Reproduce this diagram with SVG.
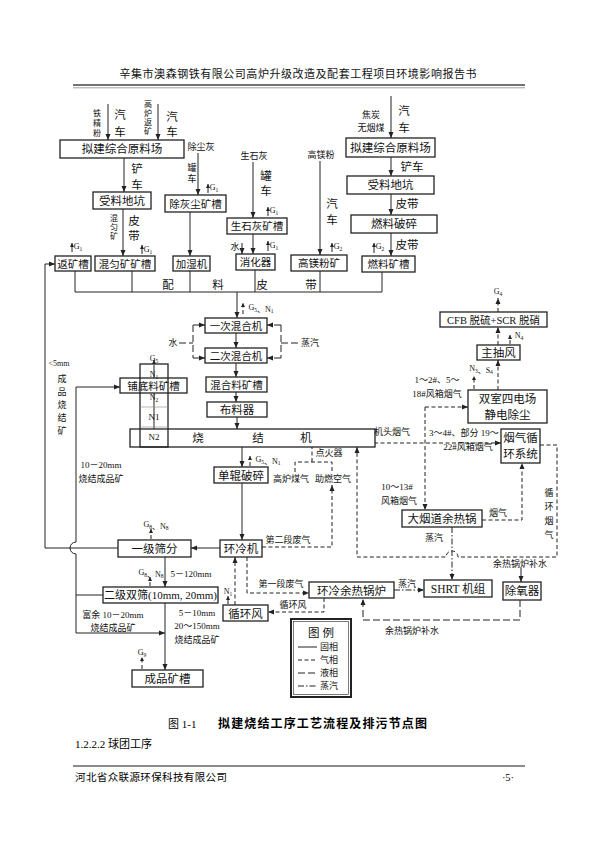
<svg xmlns="http://www.w3.org/2000/svg" width="595" height="842" viewBox="0 0 595 842">
<defs>
<marker id="a" markerUnits="userSpaceOnUse" markerWidth="6" markerHeight="6" refX="6" refY="3" orient="auto"><path d="M0,0.5 L6,3 L0,5.5 z" fill="#222"/></marker>
<marker id="s" markerUnits="userSpaceOnUse" markerWidth="4" markerHeight="4" refX="4" refY="2" orient="auto"><path d="M0,0 L4,2 L0,4 z" fill="#222"/></marker>
<style>
.b{fill:#fff;stroke:#222;stroke-width:1.3}
.t{font-family:"Liberation Serif","Noto Sans CJK SC",serif;font-size:11.5px;text-anchor:middle;fill:#111}
.n{font-size:10.5px}
.m{font-family:"Liberation Serif","Noto Sans CJK SC",serif;font-size:9px;text-anchor:middle;fill:#111}
.x{font-family:"Liberation Serif","Noto Sans CJK SC",serif;font-size:8px;text-anchor:middle;fill:#111}
.sub{font-size:5.5px}
.l{fill:none;stroke:#222;stroke-width:1}
.g{fill:none;stroke:#222;stroke-width:1;stroke-dasharray:4 2.5}
.q{fill:none;stroke:#222;stroke-width:1;stroke-dasharray:7 3}
.v{fill:none;stroke:#222;stroke-width:1;stroke-dasharray:6 2 1.5 2}
</style>
</defs>
<rect width="595" height="842" fill="#fff"/>

<g id="header">
<text x="298" y="78" class="t" style="font-size:11px" textLength="357">辛集市澳森钢铁有限公司高炉升级改造及配套工程项目环境影响报告书</text>
<line x1="73" y1="85" x2="525" y2="85" stroke="#444" stroke-width="1.6"/>
<line x1="73" y1="87.8" x2="525" y2="87.8" stroke="#888" stroke-width="0.8"/>
</g>

<g id="connectors">
<path class="l" marker-end="url(#a)" d="M108,104 V140"/>
<path class="l" marker-end="url(#a)" d="M158,104 V140"/>
<path class="l" marker-end="url(#a)" d="M124,158 V192"/>
<path class="l" marker-end="url(#a)" d="M198,153 V195"/>
<path class="l" marker-end="url(#a)" d="M123,209 V256"/>
<path class="l" marker-end="url(#a)" d="M190,212 V256"/>
<path class="l" marker-end="url(#a)" d="M253,162 V218"/>
<path class="l" marker-end="url(#a)" d="M253,234 V254"/>
<path class="l" marker-end="url(#a)" d="M242,243 V254"/>
<path class="l" marker-end="url(#a)" d="M320,161 V255"/>
<path class="l" marker-end="url(#a)" d="M391,96 V138"/>
<path class="l" marker-end="url(#a)" d="M391,157 V176"/>
<path class="l" marker-end="url(#a)" d="M391,194 V215"/>
<path class="l" marker-end="url(#a)" d="M391,233 V256"/>
<path class="l" d="M75,271 V292 M132,271 V292 M190,271 V292 M255,270 V292 M320,271 V292 M382,272 V292 M75,292 H382"/>
<path class="l" marker-end="url(#a)" d="M237,292 V318"/>
<path class="l" marker-end="url(#a)" d="M236,333 V348"/>
<path class="l" marker-end="url(#a)" d="M236,363 V377"/>
<path class="l" marker-end="url(#a)" d="M236,392 V402"/>
<path class="l" marker-end="url(#a)" d="M237,417 V429"/>
<path class="l" marker-end="url(#a)" d="M154,365 V447"/>
<path class="l" marker-end="url(#a)" d="M242,447 V467"/>
<path class="l" marker-end="url(#a)" d="M242,483 V540"/>
<path class="l" marker-end="url(#a)" d="M220,548 H191"/>
<path class="l" marker-end="url(#a)" d="M165,557 V587"/>
<path class="l" marker-end="url(#a)" d="M165,603 V670"/>
<path class="l" d="M118,548 H45 V264"/>
<path class="l" marker-end="url(#a)" d="M45,264 H55"/>
<path class="l" marker-end="url(#a)" d="M76,387 H120"/>
<path class="l" d="M76,387 V542 A6,6 0 0 0 76,554 V633 M103,595 H76"/>
<path class="l" marker-end="url(#a)" d="M76,633 H165"/>
<path class="l" marker-end="url(#a)" d="M521,568 V582"/>
<path class="l" marker-end="url(#s)" d="M72,252 V243"/>
<path class="l" marker-end="url(#s)" d="M142,254 V245"/>
<path class="l" marker-end="url(#s)" d="M208,193 V184"/>
<path class="l" marker-end="url(#s)" d="M268,216 V207"/>
<path class="l" marker-end="url(#s)" d="M268,251 V241"/>
<path class="l" marker-end="url(#s)" d="M332,252 V243"/>
<path class="l" marker-end="url(#s)" d="M374,253 V243"/>
<path class="q" d="M179,343 H193 M193,325 V358"/>
<path class="q" marker-end="url(#a)" d="M193,325 H205"/>
<path class="q" marker-end="url(#a)" d="M193,358 H205"/>
<path class="q" d="M298,343 H281 M281,325 V358"/>
<path class="q" marker-end="url(#a)" d="M281,325 H267"/>
<path class="q" marker-end="url(#a)" d="M281,358 H267"/>
<path class="g" marker-end="url(#s)" d="M243,314 V303"/>
<path class="g" marker-end="url(#s)" d="M154,364 V360"/>
<path class="g" marker-end="url(#s)" d="M250,466 V456"/>
<path class="g" marker-end="url(#s)" d="M151,539 V529"/>
<path class="g" marker-end="url(#s)" d="M150,586 V577"/>
<path class="g" marker-end="url(#s)" d="M142,669 V657"/>
<path class="g" marker-end="url(#s)" d="M228,604 V596"/>
<path class="g" marker-end="url(#a)" d="M374,443 H501"/>
<path class="g" marker-end="url(#a)" d="M425,407 H468"/>
<path class="g" marker-end="url(#a)" d="M425,407 V510"/>
<path class="g" marker-end="url(#a)" d="M498,390 V360"/>
<path class="g" marker-end="url(#a)" d="M498,345 V327"/>
<path class="g" marker-end="url(#a)" d="M498,312 V298"/>
<path class="g" marker-end="url(#s)" d="M474,389 V376"/>
<path class="g" marker-end="url(#s)" d="M510,344 V335"/>
<path class="g" marker-end="url(#a)" d="M482,520 H522 V463"/>
<path class="g" marker-end="url(#a)" d="M540,445 H557 V557 H458 A6,6 0 0 0 446,557 H357 V447"/>
<path class="g" d="M295,472 V462 H332 V472 M312,462 V447"/>
<path class="g" marker-end="url(#a)" d="M262,547 H332 V485"/>
<path class="g" marker-end="url(#a)" d="M247,557 V593 H309"/>
<path class="g" marker-end="url(#a)" d="M324,598 V612 H268"/>
<path class="g" marker-end="url(#a)" d="M235,605 V557"/>
<path class="v" marker-end="url(#a)" d="M452,527 V580"/>
<path class="v" marker-end="url(#a)" d="M394,590 H424"/>
<path class="q" marker-end="url(#a)" d="M520,600 V620 H363 V599"/>
</g>

<g id="n_yl1"><rect class="b" x="60" y="140" width="124" height="18"/><text class="t" x="122" y="153">拟建综合原料场</text></g>
<g id="n_sldk1"><rect class="b" x="93" y="192" width="58" height="17"/><text class="t" x="122" y="205">受料地坑</text></g>
<g id="n_fkc"><rect class="b" x="55" y="256" width="36" height="15"/><text class="t n" x="73" y="268">返矿槽</text></g>
<g id="n_hykc"><rect class="b" x="95" y="256" width="60" height="15"/><text class="t n" x="125" y="268">混匀矿矿槽</text></g>
<g id="n_chc"><rect class="b" x="165" y="195" width="61" height="17"/><text class="t n" x="195.5" y="208">除灰尘矿槽</text></g>
<g id="n_jsj"><rect class="b" x="173" y="256" width="37" height="15"/><text class="t n" x="191.5" y="268">加湿机</text></g>
<g id="n_sshk"><rect class="b" x="227" y="218" width="60" height="16"/><text class="t n" x="257" y="230">生石灰矿槽</text></g>
<g id="n_xhq"><rect class="b" x="236" y="254" width="39" height="16"/><text class="t n" x="255.5" y="266">消化器</text></g>
<g id="n_gmf"><rect class="b" x="291" y="255" width="56" height="16"/><text class="t n" x="319" y="267">高镁粉矿</text></g>
<g id="n_yl2"><rect class="b" x="346" y="138" width="89" height="19"/><text class="t" x="390.5" y="152">拟建综合原料场</text></g>
<g id="n_sldk2"><rect class="b" x="347" y="176" width="87" height="18"/><text class="t" x="390.5" y="189">受料地坑</text></g>
<g id="n_rlps"><rect class="b" x="351" y="215" width="86" height="18"/><text class="t" x="394" y="228">燃料破碎</text></g>
<g id="n_rlkc"><rect class="b" x="362" y="256" width="53" height="16"/><text class="t n" x="388.5" y="268">燃料矿槽</text></g>
<g id="n_hh1"><rect class="b" x="205" y="318" width="62" height="15"/><text class="t n" x="236" y="330">一次混合机</text></g>
<g id="n_hh2"><rect class="b" x="205" y="348" width="62" height="15"/><text class="t n" x="236" y="360">二次混合机</text></g>
<g id="n_hhl"><rect class="b" x="206" y="377" width="61" height="15"/><text class="t n" x="236.5" y="389">混合料矿槽</text></g>
<g id="n_blq"><rect class="b" x="207" y="402" width="60" height="15"/><text class="t" x="237" y="414">布料器</text></g>
<g id="n_sjj"><rect class="b" x="130" y="429" width="245" height="18"/><text class="t" x="198" y="442">烧</text><text class="t" x="258" y="442">结</text><text class="t" x="306" y="442">机</text></g>
<g id="n_pdl"><rect class="b" x="120" y="378" width="67" height="15"/><text class="t n" x="153.5" y="390">铺底料矿槽</text>
<rect x="140" y="364" width="28" height="83" fill="none" stroke="#222" stroke-width="1.3"/>
<line x1="140" y1="407" x2="168" y2="407" stroke="#888" stroke-width="0.6"/><line x1="140" y1="427" x2="168" y2="427" stroke="#888" stroke-width="0.6"/>
<text class="x" x="154" y="361">G<tspan class="sub" dy="1.5">5</tspan></text>
<text class="x" x="154" y="377">N<tspan class="sub" dy="1.5">1</tspan></text>
<text class="x" x="154" y="400">N<tspan class="sub" dy="1.5">2</tspan></text>
<text class="m" x="154" y="420">N1</text>
<text class="m" x="154" y="440">N2</text></g>
<g id="n_dgps"><rect class="b" x="214" y="467" width="54" height="16"/><text class="t" x="241" y="480">单辊破碎</text></g>
<g id="n_hlj"><rect class="b" x="220" y="540" width="42" height="17"/><text class="t" x="241" y="553">环冷机</text></g>
<g id="n_yjsf"><rect class="b" x="118" y="540" width="73" height="17"/><text class="t" x="154.5" y="553">一级筛分</text></g>
<g id="n_ejss"><rect class="b" x="103" y="587" width="115" height="16"/><text class="t" x="160.5" y="599" style="font-size:11px">二级双筛(10mm, 20mm)</text></g>
<g id="n_cpkc"><rect class="b" x="132" y="670" width="71" height="17"/><text class="t" x="167.5" y="683">成品矿槽</text></g>
<g id="n_xhf"><rect class="b" x="223" y="605" width="45" height="16"/><text class="t" x="245.5" y="618">循环风</text></g>
<g id="n_hlyr"><rect class="b" x="309" y="582" width="85" height="16"/><text class="t" x="351.5" y="595">环冷余热锅炉</text></g>
<g id="n_shrt"><rect class="b" x="424" y="580" width="68" height="17"/><text class="t" x="458" y="593">SHRT 机组</text></g>
<g id="n_cyq"><rect class="b" x="503" y="582" width="38" height="18" stroke-width="2"/><text class="t" x="522" y="595">除氧器</text></g>
<g id="n_dyd"><rect class="b" x="402" y="510" width="80" height="17"/><text class="t" x="442" y="523">大烟道余热锅</text></g>
<g id="n_yqxh"><rect class="b" x="501" y="429" width="39" height="34"/><text class="t" x="520.5" y="442">烟气循</text><text class="t" x="520.5" y="458">环系统</text></g>
<g id="n_sssd"><rect class="b" x="468" y="390" width="79" height="33"/><text class="t" x="507.5" y="403">双室四电场</text><text class="t" x="507.5" y="419">静电除尘</text></g>
<g id="n_zcf"><rect class="b" x="477" y="345" width="43" height="15"/><text class="t" x="498.5" y="357">主抽风</text></g>
<g id="n_cfb"><rect class="b" x="440" y="312" width="107" height="15"/><text class="t n" x="493.5" y="324">CFB 脱硫+SCR 脱硝</text></g>

<g id="labels">
<text class="x" x="97" y="116">铁</text><text class="x" x="97" y="126">精</text><text class="x" x="97" y="136">粉</text>
<text class="t" x="120" y="119">汽</text><text class="t" x="120" y="136">车</text>
<text class="x" x="148" y="107">高</text><text class="x" x="148" y="116">炉</text><text class="x" x="148" y="125">返</text><text class="x" x="148" y="134">矿</text>
<text class="t" x="172" y="121">汽</text><text class="t" x="172" y="136">车</text>
<text class="t" x="137" y="173">铲</text><text class="t" x="137" y="189">车</text>
<text class="m" x="201" y="150">除尘灰</text>
<text class="m" x="192" y="171">罐</text><text class="m" x="192" y="182">车</text>
<text class="x" x="114" y="221">混</text><text class="x" x="114" y="230">匀</text><text class="x" x="114" y="239">矿</text>
<text class="t" x="134" y="225">皮</text><text class="t" x="134" y="240">带</text>
<text class="x" x="78" y="249">G<tspan class="sub" dy="1.5">1</tspan></text>
<text class="x" x="148" y="252">G<tspan class="sub" dy="1.5">1</tspan></text>
<text class="x" x="214" y="190">G<tspan class="sub" dy="1.5">1</tspan></text>
<text class="x" x="274" y="213">G<tspan class="sub" dy="1.5">1</tspan></text>
<text class="x" x="274" y="248">G<tspan class="sub" dy="1.5">1</tspan></text>
<text class="x" x="338" y="249">G<tspan class="sub" dy="1.5">2</tspan></text>
<text class="x" x="380" y="249">G<tspan class="sub" dy="1.5">2</tspan></text>
<text class="m" x="254" y="159">生石灰</text>
<text class="t" x="266" y="180">罐</text><text class="t" x="266" y="195">车</text>
<text class="m" x="235" y="250">水</text>
<text class="m" x="321" y="158">高镁粉</text>
<text class="t" x="332" y="208">汽</text><text class="t" x="332" y="224">车</text>
<text class="m" x="371" y="118">焦炭</text>
<text class="m" x="371" y="131">无烟煤</text>
<text class="t" x="404" y="115">汽</text><text class="t" x="404" y="132">车</text>
<text class="t" x="412" y="171">铲车</text>
<text class="t" x="407" y="208">皮带</text>
<text class="t" x="407" y="249">皮带</text>
<text class="t" x="168" y="289">配</text><text class="t" x="218" y="289">料</text><text class="t" x="262" y="289">皮</text><text class="t" x="311" y="289">带</text>
<text class="x" x="261" y="310">G<tspan class="sub" dy="1.5">5</tspan>、N<tspan class="sub" dy="1.5">1</tspan></text>
<text class="m" x="173" y="346">水</text>
<text class="m" x="310" y="346">蒸汽</text>
<text class="x" x="59" y="366">&lt;5mm</text>
<text class="m" x="62" y="382">成</text><text class="m" x="62" y="395">品</text><text class="m" x="62" y="408">烧</text><text class="m" x="62" y="421">结</text><text class="m" x="62" y="434">矿</text>
<text class="m" x="101" y="468">10－20mm</text>
<text class="m" x="101" y="482">烧结成品矿</text>
<text class="x" x="268" y="462">G<tspan class="sub" dy="1.5">5</tspan>、N<tspan class="sub" dy="1.5">1</tspan></text>
<text class="m" x="329" y="456">点火器</text>
<text class="m" x="291" y="482">高炉煤气</text>
<text class="m" x="333" y="482">助燃空气</text>
<text class="m" x="288" y="543">第二段废气</text>
<text class="x" x="156" y="527">G<tspan class="sub" dy="1.5">8</tspan>、N<tspan class="sub" dy="1.5">8</tspan></text>
<text class="x" x="151" y="575">G<tspan class="sub" dy="1.5">8</tspan>、N<tspan class="sub" dy="1.5">8</tspan></text>
<text class="m" x="191" y="577">5－120mm</text>
<text class="m" x="281" y="587">第一段废气</text>
<text class="x" x="228" y="594">N<tspan class="sub" dy="1.5">1</tspan></text>
<text class="m" x="293" y="608">循环风</text>
<text class="m" x="113" y="618">富余 10－20mm</text>
<text class="m" x="113" y="631">烧结成品矿</text>
<text class="m" x="197" y="616">5－10mm</text>
<text class="m" x="197" y="629">20～150mm</text>
<text class="m" x="197" y="643">烧结成品矿</text>
<text class="x" x="142" y="655">G<tspan class="sub" dy="1.5">9</tspan></text>
<text class="x" x="498" y="294">G<tspan class="sub" dy="1.5">4</tspan></text>
<text class="x" x="519" y="338">N<tspan class="sub" dy="1.5">4</tspan></text>
<text class="x" x="481" y="371">N<tspan class="sub" dy="1.5">3</tspan>、S<tspan class="sub" dy="1.5">4</tspan></text>
<text class="m" x="437" y="383">1～2#、5～</text>
<text class="m" x="437" y="397">18#风箱烟气</text>
<text class="m" x="392" y="435">机头烟气</text>
<text class="m" x="464" y="436">3～4#、部分 19～</text>
<text class="m" x="468" y="450">22#风箱烟气</text>
<text class="m" x="397" y="490">10～13#</text>
<text class="m" x="399" y="504">风箱烟气</text>
<text class="m" x="498" y="516">烟气</text>
<text class="m" x="549" y="496">循</text><text class="m" x="549" y="510">环</text><text class="m" x="549" y="524">烟</text><text class="m" x="549" y="538">气</text>
<text class="m" x="434" y="541">蒸汽</text>
<text class="m" x="520" y="567">余热锅炉补水</text>
<text class="m" x="407" y="587">蒸汽</text>
<text class="m" x="412" y="634">余热锅炉补水</text>
</g>

<g id="legend">
<rect x="291" y="619" width="60" height="78" fill="#fff" stroke="#222" stroke-width="2"/>
<rect x="293.5" y="621.5" width="55" height="73" fill="none" stroke="#222" stroke-width="0.6"/>
<text class="t" x="321" y="637">图  例</text>
<line x1="298" y1="647" x2="317" y2="647" class="l"/><text class="m" x="329" y="650">固相</text>
<line x1="298" y1="660" x2="317" y2="660" class="g"/><text class="m" x="329" y="663">气相</text>
<line x1="298" y1="673" x2="317" y2="673" class="q"/><text class="m" x="329" y="676">液相</text>
<line x1="298" y1="686" x2="317" y2="686" class="v"/><text class="m" x="329" y="689">蒸汽</text>
</g>

<g id="footer">
<text x="168" y="728" style="font-family:'Liberation Serif','Noto Sans CJK SC',serif;font-size:11px">图 1-1</text>
<text x="218" y="728" textLength="209" style="font-family:'Liberation Serif','Noto Sans CJK SC',serif;font-size:12px;font-weight:bold">拟建烧结工序工艺流程及排污节点图</text>
<text x="75" y="748" style="font-family:'Liberation Serif','Noto Sans CJK SC',serif;font-size:11px">1.2.2.2 球团工序</text>
<line x1="73" y1="766" x2="525" y2="766" stroke="#666" stroke-width="1.3"/>
<text x="75" y="781" textLength="152" style="font-family:'Liberation Serif','Noto Sans CJK SC',serif;font-size:10.5px">河北省众联源环保科技有限公司</text>
<text x="508" y="781" text-anchor="middle" style="font-family:'Liberation Serif','Noto Sans CJK SC',serif;font-size:10.5px">·5·</text>
</g>
</svg>
